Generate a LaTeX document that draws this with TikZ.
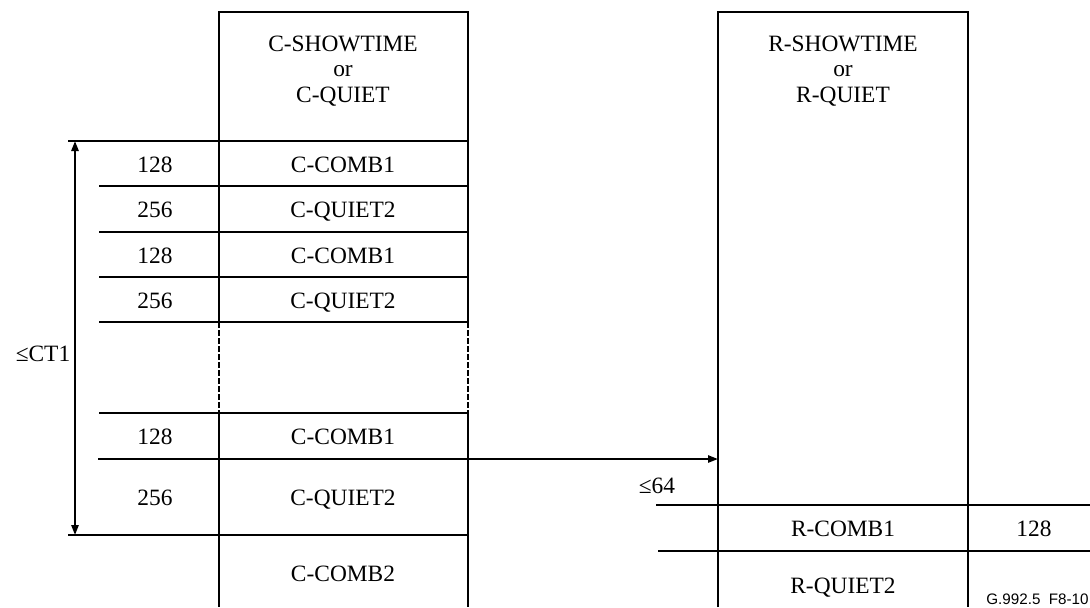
\documentclass[tikz,border=0pt]{standalone}
\usepackage{fontspec}
\setmainfont{Liberation Serif}
\newfontfamily\tagfont{Liberation Sans}
\usetikzlibrary{arrows.meta}

\begin{document}
\begin{tikzpicture}[x=0.5pt,y=-0.5pt,
                    font=\fontsize{11.7}{12.6}\selectfont,
                    lbl/.style={inner sep=0pt,anchor=base},
                    rule/.style={line width=1pt},
                    wall/.style={line width=0.65pt},
                    gap/.style={line width=0.65pt,dash pattern=on 3pt off 1pt},
                    >={Triangle[length=5pt,width=3.6pt]}]
\useasboundingbox (0,0) rectangle (1090,607);

% columns
\draw[wall] (219,322) |- (468,12) -- (468,322);
\draw[gap]  (219,322) -- (219,413) (468,322) -- (468,413);
\draw[wall] (219,413) -- (219,607) (468,413) -- (468,607);
\draw[wall] (718,607) |- (968,12) -- (968,607);

% row rules
\foreach \y in {186,232,277,322,413}
    \draw[rule] (99,\y) -- (468,\y);
\draw[rule] (68,141) -- (468,141);
\draw[rule] (68,535) -- (468,535);
\draw[rule] (656,505) -- (1090,505);
\draw[rule] (658,551) -- (1090,551);

% headers
\node[align=center,inner sep=0pt] (cshow) at (343,71) {C-SHOWTIME\\or\\C-QUIET};
\node[align=center,inner sep=0pt] (rshow) at (843,71) {R-SHOWTIME\\or\\R-QUIET};

% C side rows
\foreach \i/\y/\n/\t in {1/172/128/C-COMB1, 2/217/256/C-QUIET2,
                         3/263/128/C-COMB1, 4/308/256/C-QUIET2,
                         5/444/128/C-COMB1, 6/505/256/C-QUIET2}{
    \node[lbl] (len\i) at (155,\y) {\n};
    \node[lbl] (sym\i) at (343,\y) {\t};
}
\node[lbl] (ccomb2) at (343,581) {C-COMB2};
\node[lbl] (ct1) at (43,361) {≤CT1};

% R side rows
\node[lbl] (rcomb1) at (843,536) {R-COMB1};
\node[lbl] (rlen) at (1034,536) {128};
\node[lbl] (rquiet2) at (843,593) {R-QUIET2};
\node[lbl] (w64) at (657,493) {≤64};

% arrows
\coordinate (ctop) at (75,141);
\coordinate (cbot) at (75,535);
\draw[rule,<->] (ctop) -- (cbot);
\coordinate (afrom) at (98,459);
\coordinate (ato) at (718,459);
\draw[rule,->] (afrom) -- (ato);

\node[inner sep=0pt,anchor=base east,font=\tagfont\fontsize{7.6}{8}\selectfont] (tag) at (1089,604) {G.992.5\ \ F8-10};
\end{tikzpicture}
\end{document}
